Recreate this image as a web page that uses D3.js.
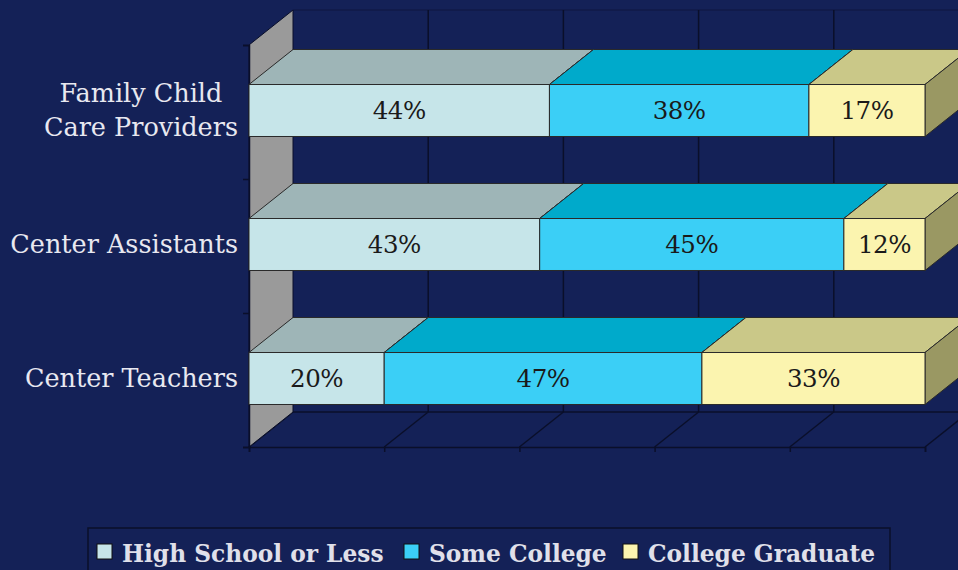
<!DOCTYPE html>
<html><head><meta charset="utf-8">
<script src="https://cdn.jsdelivr.net/npm/d3@7"></script>
<style>
html,body{margin:0;padding:0;background:#142157;}
svg{display:block;}
</style></head>
<body>
<svg id="chart" width="958" height="570"></svg>
<script>
// ---- data ----
const categories = ["Family Child Care Providers", "Center Assistants", "Center Teachers"];
const categoryLines = [["Family Child", "Care Providers"], ["Center Assistants"], ["Center Teachers"]];
const seriesNames = ["High School or Less", "Some College", "College Graduate"];
const highSchool = [44, 43, 20];
const someCollege = [38, 45, 47];
const collegeGrad = [17, 12, 33];
const xTicks = [0, 0.2, 0.4, 0.6, 0.8, 1.0];

// ---- styles ----
const frontColors = ["#C6E5E9", "#3BCFF6", "#FBF4AF"];
const topColors = ["#9EB5B7", "#00AACB", "#CAC888"];
const sideColors = ["#8FA3A5", "#0090AD", "#9A9863"];
const bg = "#142157";
const gridColor = "#0A0F2A";
const DX = 44, DY = -35;

const svg = d3.select("#chart");
svg.append("rect").attr("width", 958).attr("height", 570).attr("fill", bg);

const x = d3.scaleLinear().domain([0, 1]).range([249, 925]);
const yWall = d3.scaleBand().domain(categories).range([45, 447]).paddingInner(0).paddingOuter(0);
const yBar = d3.scaleBand().domain(categories).range([43.5, 445.5]).paddingInner(0.612).paddingOuter(0.306);

const serial = [highSchool, someCollege, collegeGrad];
const rows = categories.map((c, i) => {
  const vals = serial.map(s => s[i]);
  const total = d3.sum(vals);
  let acc = 0;
  return vals.map((v, k) => { const seg = {cat: c, k, v, x0: acc / total, x1: (acc + v) / total}; acc += v; return seg; });
});

const yTop = yWall.range()[0], yBot = yWall.range()[1];

// back wall gridlines
const g = svg.append("g");
g.append("line").attr("x1", x(0) + DX).attr("x2", x(1) + DX).attr("y1", yTop + DY).attr("y2", yTop + DY)
  .attr("stroke", gridColor).attr("stroke-width", 1.2).attr("opacity", 0.5);
g.selectAll("line.vg").data(xTicks.slice(1)).join("line").attr("class", "vg")
  .attr("x1", d => x(d) + DX).attr("x2", d => x(d) + DX)
  .attr("y1", yTop + DY).attr("y2", yBot + DY)
  .attr("stroke", gridColor).attr("stroke-width", 1.5);
// floor
g.append("line").attr("x1", x(0) + DX).attr("x2", x(1) + DX).attr("y1", yBot + DY).attr("y2", yBot + DY)
  .attr("stroke", gridColor).attr("stroke-width", 1.5);
g.selectAll("line.fg").data(xTicks).join("line").attr("class", "fg")
  .attr("x1", d => x(d)).attr("x2", d => x(d) + DX)
  .attr("y1", yBot).attr("y2", yBot + DY)
  .attr("stroke", gridColor).attr("stroke-width", 1.5);
// left wall
g.append("polygon")
  .attr("points", [[x(0), yTop], [x(0) + DX, yTop + DY], [x(0) + DX, yBot + DY], [x(0), yBot]].join(" "))
  .attr("fill", "#9A9A9A").attr("stroke", gridColor).attr("stroke-width", 1);

// front axis lines
const xAxis = d3.axisBottom(x).tickValues(xTicks).tickSize(5).tickFormat("");
const ax = svg.append("g").attr("transform", `translate(0,${yBot})`).call(xAxis);
ax.selectAll("path,line").attr("stroke", gridColor).attr("stroke-width", 1.5);
const yAxis = d3.axisLeft(d3.scaleLinear().domain([0, 3]).range([yBot, yTop])).ticks(3).tickSize(6).tickFormat("");
const ay = svg.append("g").attr("transform", `translate(${x(0)},0)`).call(yAxis);
ay.selectAll("path,line").attr("stroke", gridColor).attr("stroke-width", 1.5);

// bars
const bars = svg.append("g");
rows.forEach(row => {
  row.forEach(seg => {
    const y0 = yBar(seg.cat), h = yBar.bandwidth();
    const xa = x(seg.x0), xb = x(seg.x1);
    const gg = bars.append("g");
    gg.append("polygon")
      .attr("points", [[xa, y0], [xa + DX, y0 + DY], [xb + DX, y0 + DY], [xb, y0]].join(" "))
      .attr("fill", topColors[seg.k]).attr("stroke", "#2a2a2a").attr("stroke-width", 1);
    gg.append("polygon")
      .attr("points", [[xb, y0], [xb + DX, y0 + DY], [xb + DX, y0 + h + DY], [xb, y0 + h]].join(" "))
      .attr("fill", sideColors[seg.k]).attr("stroke", "#2a2a2a").attr("stroke-width", 1);
    gg.append("rect").attr("x", xa).attr("y", y0).attr("width", xb - xa).attr("height", h)
      .attr("fill", frontColors[seg.k]).attr("stroke", "#2a2a2a").attr("stroke-width", 1);
    gg.append("text").attr("x", (xa + xb) / 2).attr("y", y0 + h / 2 + 8.5)
      .attr("text-anchor", "middle").attr("font-family", "DejaVu Serif").attr("font-size", 24.5)
      .attr("letter-spacing", -0.5)
      .attr("fill", "#1a1a1a").text(seg.v + "%");
  });
});

// category labels
const labels = svg.append("g").attr("font-family", "DejaVu Serif").attr("font-size", 25.5).attr("fill", "#E8E8F0");
categories.forEach((c, i) => {
  const lines = categoryLines[i];
  const cy = yBar(c) + yBar.bandwidth() / 2;
  const lh = 34;
  const t = labels.append("text").attr("text-anchor", "middle");
  lines.forEach((ln, j) => {
    t.append("tspan").attr("x", 0).attr("y", cy + 8.5 + (j - (lines.length - 1) / 2) * lh).text(ln);
  });
  const w = d3.max(t.selectAll("tspan").nodes(), n => n.getComputedTextLength());
  t.selectAll("tspan").attr("x", 238 - w / 2);
});

// legend
const leg = svg.append("g");
leg.append("rect").attr("x", 88).attr("y", 528).attr("width", 802).attr("height", 60)
  .attr("fill", "none").attr("stroke", "#0A0F2A").attr("stroke-width", 1.5);
const legX = [97, 404, 623];
seriesNames.forEach((s, k) => {
  leg.append("rect").attr("x", legX[k]).attr("y", 544).attr("width", 15).attr("height", 15)
    .attr("fill", frontColors[k]).attr("stroke", "#111").attr("stroke-width", 1);
  leg.append("text").attr("x", legX[k] + 25).attr("y", 562)
    .attr("font-family", "DejaVu Serif").attr("font-weight", "bold").attr("font-size", 23.3)
    .attr("fill", "#E0E0EA").text(s);
});
</script>
</body></html>
